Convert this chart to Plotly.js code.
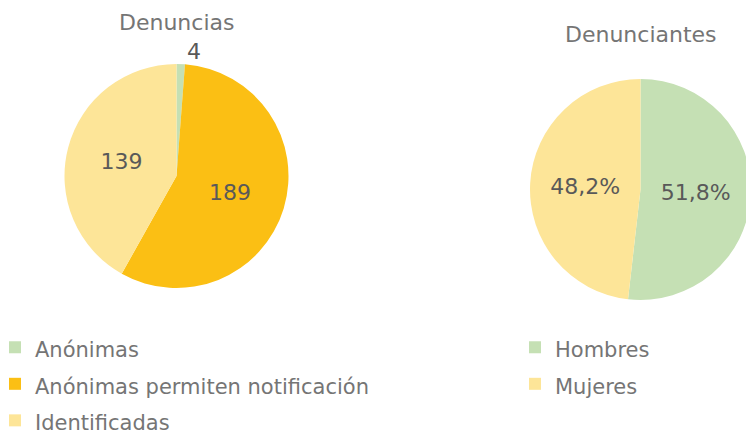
<!DOCTYPE html>
<html>
<head>
<meta charset="utf-8">
<script src="https://cdn.plot.ly/plotly-3.0.1.min.js"></script>
<style>
html,body{margin:0;padding:0;overflow:hidden;background:#fff;width:746px;height:437px;}
#chart{width:760px;height:437px;}
</style>
</head>
<body>
<div id="chart"></div>
<script>
// Data
const denunciasLabels = ['Anónimas', 'Anónimas permiten notificación', 'Identificadas'];
const denunciasValues = [4, 189, 139];
const denunciantesLabels = ['Hombres', 'Mujeres'];
const denunciantesValues = [51.8, 48.2];
const titles = ['Denuncias', 'Denunciantes'];

const W = 760, H = 437;
const px = v => v / W;
const py = v => 1 - v / H;

const cGreen = '#C5E0B4', cOrange = '#FBBF14', cYellow = '#FDE598';
const font = 'DejaVu Sans, Verdana, sans-serif';
// legend text drawn at 21px while the row pitch comes from a larger legend font size
const legendLabel = l => '<span style="font-size:21px">' + l + '</span>';

const traces = [
  {
    type: 'pie',
    labels: denunciasLabels.map(legendLabel),
    values: denunciasValues,
    sort: false,
    direction: 'clockwise',
    rotation: 0,
    textinfo: 'value',
    textposition: ['outside', 'inside', 'inside'],
    insidetextorientation: 'horizontal',
    textfont: {family: font, size: 22, color: '#595959'},
    marker: {colors: [cGreen, cOrange, cYellow], line: {width: 0}},
    domain: {x: [px(64), px(289)], y: [py(288), py(64)]},
    hoverinfo: 'value',
    legend: 'legend'
  },
  {
    type: 'pie',
    labels: denunciantesLabels.map(legendLabel),
    values: denunciantesValues,
    sort: false,
    direction: 'clockwise',
    rotation: 0,
    texttemplate: '%{percent:.1%}',
    textposition: 'inside',
    insidetextorientation: 'horizontal',
    textfont: {family: font, size: 22, color: '#595959'},
    marker: {colors: [cGreen, cYellow], line: {width: 0}},
    domain: {x: [px(530), px(751)], y: [py(300), py(79)]},
    hoverinfo: 'percent',
    legend: 'legend2'
  }
];

const legendFont = {family: font, size: 25.8, color: '#757575'};

const layout = {
  width: W, height: H,
  margin: {l: 0, r: 0, t: 0, b: 0, autoexpand: false},
  paper_bgcolor: '#ffffff',
  separators: ',.',
  font: {family: font, color: '#757575'},
  showlegend: true,
  legend: {
    x: px(-5), y: py(324), xanchor: 'left', yanchor: 'top',
    font: legendFont,
    bgcolor: 'rgba(0,0,0,0)', traceorder: 'normal'
  },
  legend2: {
    x: px(515), y: py(324), xanchor: 'left', yanchor: 'top',
    font: legendFont,
    bgcolor: 'rgba(0,0,0,0)', traceorder: 'normal'
  },
  annotations: [
    {text: titles[0], x: px(176.5), y: py(23), xref: 'paper', yref: 'paper', xanchor: 'center', yanchor: 'middle', showarrow: false, font: {family: font, size: 22, color: '#757575'}},
    {text: titles[1], x: px(641), y: py(35), xref: 'paper', yref: 'paper', xanchor: 'center', yanchor: 'middle', showarrow: false, font: {family: font, size: 22, color: '#757575'}}
  ]
};

Plotly.newPlot('chart', traces, layout, {displayModeBar: false, staticPlot: true});
</script>
</body>
</html>
